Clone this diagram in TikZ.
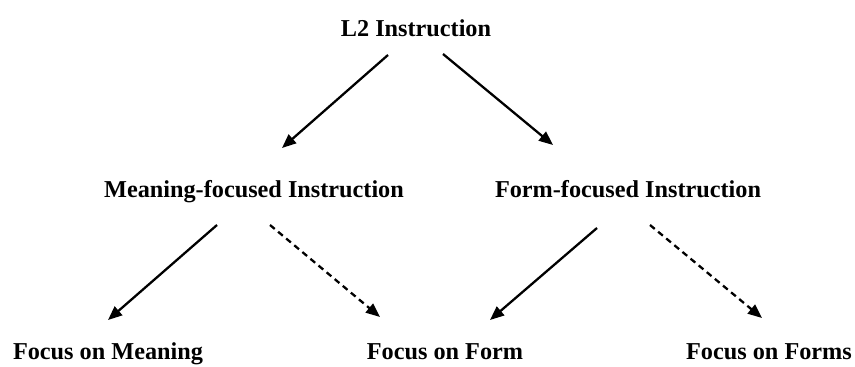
\documentclass[tikz,border=0pt]{standalone}
\usepackage{fontspec}
\setmainfont{Liberation Serif}
\usepackage{tikz}
\usetikzlibrary{arrows.meta,positioning}

\begin{document}
\begin{tikzpicture}[
    x=0.02cm, y=-0.02cm,
    label/.style={anchor=base, inner sep=0pt, font=\fontsize{13.8}{16}\selectfont\bfseries},
    arrow/.style={-{Triangle[length=8pt, width=6.5pt]}, line width=1.3pt},
    weak/.style={arrow, dash pattern=on 3.5pt off 2.5pt}
]
    \useasboundingbox (0,0) rectangle (855,367);

    \node[label] (l2)  at (416,37)  {L2 Instruction};
    \node[label] (mfi) at (254,198) {Meaning-focused Instruction};
    \node[label] (ffi) at (628,198) {Form-focused Instruction};
    \node[label] (fom) at (108,360) {Focus on Meaning};
    \node[label] (fof) at (445,360) {Focus on Form};
    \node[label] (fos) at (769,360) {Focus on Forms};

    \draw[arrow] ([shift={(-28,18)}]l2.base) -- ([shift={(28,-50)}]mfi.base);
    \draw[arrow] ([shift={(27,17)}]l2.base) -- ([shift={(-75,-53)}]ffi.base);
    \draw[arrow] ([shift={(-37,27)}]mfi.base) -- ([shift={(0,-40)}]fom.base);
    \draw[weak] ([shift={(16,27)}]mfi.base) -- ([shift={(-65,-43)}]fof.base);
    \draw[arrow] ([shift={(-31,30)}]ffi.base) -- ([shift={(45,-40)}]fof.base);
    \draw[weak] ([shift={(22,27)}]ffi.base) -- ([shift={(-7,-42)}]fos.base);
\end{tikzpicture}
\end{document}
